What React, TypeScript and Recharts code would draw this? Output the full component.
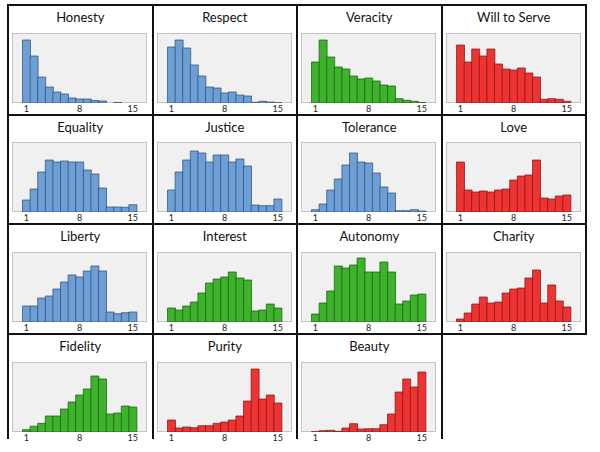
import React from "react";
import { BarChart, Bar, XAxis, YAxis } from "recharts";

const bins = [1, 2, 3, 4, 5, 6, 7, 8, 9, 10, 11, 12, 13, 14, 15];
const tickLabels = [1, 8, 15];

const honesty = [63, 47, 26, 16, 11, 9, 5, 4, 4, 2.5, 2, 0, 0.5, 0, 0];
const respect = [56, 63, 55, 38, 27, 16, 15, 10, 11, 8, 7, 0.7, 1.7, 1, 0.3];
const veracity = [41, 63, 46, 36, 34, 27, 24, 25, 22, 18, 17, 4.3, 2.7, 1.7, 0.3];
const willToServe = [58, 41, 54, 47, 54, 39, 34, 33, 35, 30, 26, 3.7, 4.3, 3.7, 1.7];
const equality = [12, 23, 40, 52, 50, 51, 50, 50, 42, 38, 24, 5, 5, 4.7, 7.3];
const justice = [22, 40, 52, 61, 59, 50, 57, 57, 50, 53, 46, 7, 6.3, 6.3, 13];
const tolerance = [2.3, 8, 22, 33, 47, 59, 50, 49, 39, 25, 19, 1.3, 1.3, 2.3, 1];
const love = [50, 22, 20, 21, 20, 22, 23, 32, 36, 37, 52, 14, 13, 16, 17];
const liberty = [16, 16, 24, 26, 33, 40, 47, 45, 51, 56, 51, 10, 8.3, 9.3, 10];
const interest = [14, 12, 16, 20, 29, 39, 43, 45, 50, 44, 42, 11, 12, 18, 14];
const autonomy = [8, 19, 31, 56, 54, 57, 64, 50, 50, 60, 50, 18, 21, 27, 28];
const charity = [3, 9, 18, 25, 19, 20, 29, 33, 34, 44, 52, 19, 37, 21, 15];
const fidelity = [2.3, 5.7, 8.7, 16, 16, 23, 30, 37, 43, 56, 53, 18, 19, 26, 25];
const purity = [12, 4, 5, 4.3, 6.3, 6.3, 8.7, 10, 12, 16, 31, 63, 33, 37, 29];
const beauty = [0.3, 1.3, 1.7, 0.7, 4, 8.3, 3, 3.3, 3.3, 7.3, 18, 40, 53, 45, 60];

const titles = [
  "Honesty", "Respect", "Veracity", "Will to Serve",
  "Equality", "Justice", "Tolerance", "Love",
  "Liberty", "Interest", "Autonomy", "Charity",
  "Fidelity", "Purity", "Beauty",
];
const series = [
  honesty, respect, veracity, willToServe,
  equality, justice, tolerance, love,
  liberty, interest, autonomy, charity,
  fidelity, purity, beauty,
];
const groups = [
  "blue", "blue", "green", "red",
  "blue", "blue", "blue", "red",
  "blue", "green", "green", "red",
  "green", "red", "red",
];

const palette: Record<string, { fill: string; stroke: string }> = {
  blue: { fill: "#6d9fd6", stroke: "#2e4a6e" },
  green: { fill: "#3db22b", stroke: "#1e5614" },
  red: { fill: "#ee3333", stroke: "#7a1616" },
};

const colX = [8, 152.5, 297, 441.5, 586];
const rowY = [5, 114.5, 224, 334, 440];
const FONT = "Lato, 'Open Sans', sans-serif";

function Panel({ idx }: { idx: number }) {
  const c = idx % 4;
  const r = Math.floor(idx / 4);
  const left = colX[c];
  const top = rowY[r];
  const w = colX[c + 1] - colX[c];
  const h = rowY[r + 1] - rowY[r];
  const last = r === 3;
  const data = bins.map((b, i) => ({ bin: b, v: series[idx][i] }));
  const col = palette[groups[idx]];
  const plotW = 135;
  const plotH = 70;
  const plotLeft = left + 4.3;
  const plotTop = top + 27.5;
  return (
    <>
      <div
        style={{
          position: "absolute",
          left: left - 1,
          top: top - 1,
          width: w + 2,
          height: h + (last ? 0 : 2),
          boxSizing: "border-box",
          borderLeft: "2px solid #111",
          borderRight: "2px solid #111",
          borderTop: "2px solid #111",
          borderBottom: last ? "none" : "2px solid #111",
        }}
      />
      <div
        style={{
          position: "absolute",
          left,
          top: top + 4,
          width: w,
          textAlign: "center",
          fontFamily: FONT,
          fontSize: 13,
          lineHeight: "16px",
          color: "#111",
        }}
      >
        {titles[idx]}
      </div>
      <div
        style={{
          position: "absolute",
          left: plotLeft,
          top: plotTop,
          width: plotW,
          height: plotH,
          boxSizing: "border-box",
          border: "1px solid #c4c4c4",
          background: "#f0f0f0",
        }}
      />
      <div style={{ position: "absolute", left: plotLeft, top: plotTop }}>
        <BarChart
          width={plotW}
          height={plotH + 14}
          data={data}
          margin={{ top: 0, right: 0, bottom: 0, left: 0 }}
          barCategoryGap={0}
          barGap={0}
        >
          <XAxis
            dataKey="bin"
            type="category"
            interval={0}
            height={14}
            padding={{ left: 10.5, right: 10.5 }}
            tickLine={false}
            axisLine={false}
            tickSize={0}
            tickMargin={3}
            tick={{ fontSize: 9, fill: "#222", fontFamily: FONT }}
            tickFormatter={(v: any) => (tickLabels.includes(Number(v)) ? String(v) : "")}
          />
          <YAxis hide domain={[0, 70]} allowDataOverflow />
          <Bar
            dataKey="v"
            fill={col.fill}
            stroke={col.stroke}
            strokeWidth={0.7}
            isAnimationActive={false}
          />
        </BarChart>
      </div>
    </>
  );
}

export default function App() {
  return (
    <div
      style={{
        position: "absolute",
        left: 0,
        top: 0,
        width: 600,
        height: 452,
        background: "#fff",
        overflow: "hidden",
      }}
    >
      {titles.map((_, i) => (
        <Panel key={i} idx={i} />
      ))}
    </div>
  );
}
